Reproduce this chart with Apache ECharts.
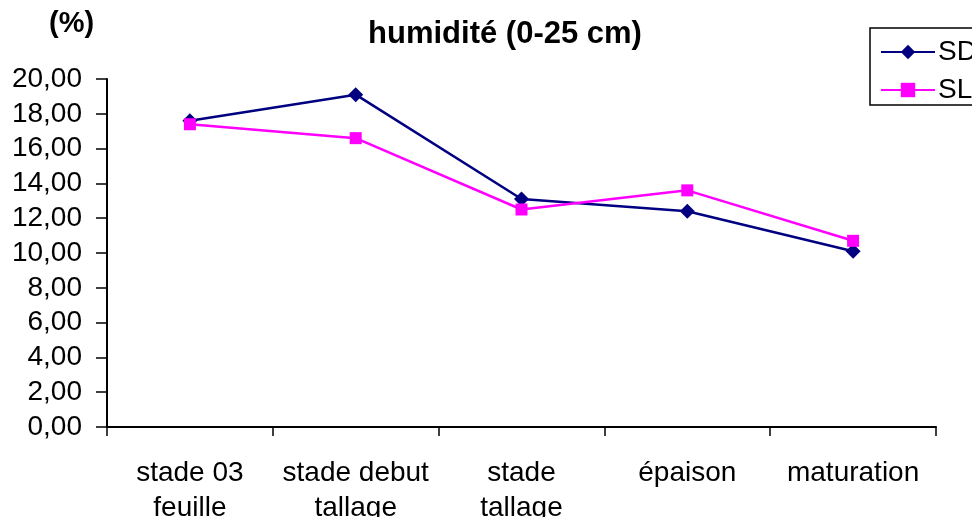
<!DOCTYPE html>
<html>
<head>
<meta charset="utf-8">
<script src="https://cdn.jsdelivr.net/npm/echarts@6/dist/echarts.min.js"></script>
<style>
  html, body { margin: 0; padding: 0; background: #fff; }
  #chart { width: 972px; height: 517px; }
</style>
</head>
<body>
<div id="chart"></div>
<script>
// Soil moisture (0-25 cm) by growth stage
const stages = ['stade 03\nfeuille', 'stade debut\ntallage', 'stade\ntallage', 'épaison', 'maturation'];
const sdValues = [17.6, 19.1, 13.1, 12.4, 10.1];
const slValues = [17.4, 16.6, 12.5, 13.6, 10.7];
const seriesNames = ['SD', 'SL'];

const font = 'Liberation Sans, Arial, sans-serif';
const chart = echarts.init(document.getElementById('chart'), null, { renderer: 'canvas' });

chart.setOption({
  backgroundColor: '#ffffff',
  animation: false,
  textStyle: { fontFamily: font, color: '#000' },
  title: {
    text: 'humidité (0-25 cm)',
    left: 500,
    top: 14,
    textAlign: 'center',
    textStyle: { fontFamily: font, fontSize: 31, fontWeight: 'bold', color: '#000' }
  },
  graphic: [{
    type: 'text',
    left: 49,
    top: 9,
    style: { text: '(%)', font: 'bold 29px ' + font, fill: '#000' }
  }],
  legend: {
    left: 870,
    top: 28,
    orient: 'vertical',
    padding: [9, 10, 0, 10],
    itemGap: 8,
    itemWidth: 54,
    itemHeight: 18,
    borderColor: '#000',
    borderWidth: 1.5,
    borderRadius: 0,
    data: seriesNames,
    textStyle: { fontFamily: font, fontSize: 28, color: '#000', lineHeight: 30, padding: [0, 0, 0, -2] }
  },
  grid: { left: 107, right: 36, top: 79, bottom: 90, containLabel: false, outerBoundsMode: 'none' },
  xAxis: {
    type: 'category',
    data: stages,
    boundaryGap: true,
    axisLine: { lineStyle: { color: '#000', width: 2 } },
    axisTick: { show: true, length: 9, inside: false, alignWithLabel: false, lineStyle: { color: '#000', width: 1.5 } },
    axisLabel: { fontFamily: font, fontSize: 28, color: '#000', margin: 29, lineHeight: 35, interval: 0 },
    splitLine: { show: false }
  },
  yAxis: {
    type: 'value',
    min: 0,
    max: 20,
    interval: 2,
    axisLine: { show: true, lineStyle: { color: '#000', width: 2 } },
    axisTick: { show: true, length: 11, lineStyle: { color: '#000', width: 1.5 } },
    axisLabel: {
      fontFamily: font, fontSize: 28, color: '#000', margin: 25,
      formatter: v => v.toFixed(2).replace('.', ',')
    },
    splitLine: { show: false }
  },
  series: [
    {
      name: seriesNames[0],
      type: 'line',
      data: sdValues,
      symbol: 'diamond',
      symbolSize: 15,
      showAllSymbol: true,
      lineStyle: { color: '#000080', width: 2.5 },
      itemStyle: { color: '#000080' }
    },
    {
      name: seriesNames[1],
      type: 'line',
      data: slValues,
      symbol: 'rect',
      symbolSize: 12,
      showAllSymbol: true,
      lineStyle: { color: '#ff00ff', width: 2.5 },
      itemStyle: { color: '#ff00ff' }
    }
  ]
});
</script>
</body>
</html>
